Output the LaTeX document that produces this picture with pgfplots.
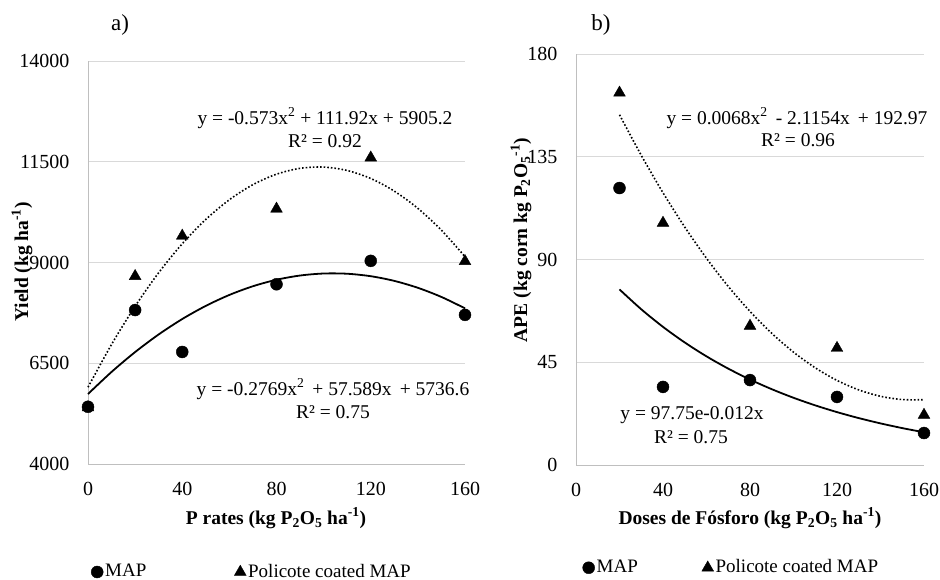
\documentclass[border=0pt]{standalone}
\usepackage{fontspec}
\setmainfont{Liberation Serif}
\usepackage{pgfplots}
\pgfplotsset{compat=1.18}

\pgfplotsset{
  panel/.style={
    scale only axis,
    axis x line*=bottom, axis y line*=left,
    axis line style={draw=gray!50, line width=0.9pt, -},
    major tick length=0pt,
    ymajorgrids, grid style={gray!30, line width=0.9pt},
    xmin=0, xmax=160, xtick={0,40,80,120,160},
    scaled y ticks=false,
    tick label style={font=\fontsize{20}{23}\selectfont},
    /pgf/number format/assume math mode=true,
    /pgf/number format/1000 sep={},
    yticklabel style={xshift=-12pt},
    xticklabel style={yshift=-12pt},
    clip=false,
    legend style={draw=none, fill=none, legend columns=2,
      font=\fontsize{19}{22}\selectfont},
    legend cell align=left,
    legend image code/.code={\draw[##1] plot coordinates {(0pt,0pt)};},
  },
  mapmark/.style={only marks, mark=*, mark size=6pt, black},
  polmark/.style={only marks, mark=triangle*, mark size=6.8pt, black},
}

\begin{document}
\fontsize{19.5}{23}\selectfont
\begin{tikzpicture}[x=1pt,y=1pt]
\path[use as bounding box] (0,0) rectangle (940,580);

% a) yield
\begin{axis}[panel, at={(88pt,116pt)}, anchor=south west,
  width=377pt, height=403pt,
  ymin=4000, ymax=14000, ytick={4000,6500,9000,11500,14000},
  legend style={at={(0,-0.268)}, anchor=west,
    /tikz/every even column/.append style={column sep=86pt}}]
\addplot[mapmark] coordinates {(0,5420) (20,7820) (40,6780) (80,8460) (120,9040) (160,7700)};
\addplot[polmark] coordinates {(0,5400) (20,8660) (40,9660) (80,10330) (120,11600) (160,9030)};
\legend{MAP, Policote coated MAP}
% trend lines from the printed equations
\addplot[forget plot, black, line width=1.8pt, smooth] coordinates {
  (0,5736.6) (10,6284.8) (20,6777.6) (30,7215.1) (40,7597.1) (50,7923.8)
  (60,8195.1) (70,8411.0) (80,8571.6) (90,8676.7) (100,8726.5) (110,8720.9)
  (120,8659.9) (130,8543.6) (140,8371.8) (150,8144.7) (160,7862.2)};
\addplot[forget plot, black, line width=1.6pt, dotted, smooth] coordinates {
  (0,5905.2) (10,6967.1) (20,7914.4) (30,8747.1) (40,9465.2) (50,10068.7)
  (60,10557.6) (70,10931.9) (80,11191.6) (90,11336.7) (100,11367.2) (110,11283.1)
  (120,11084.4) (130,10771.1) (140,10343.2) (150,9800.7) (160,9143.6)};
\end{axis}

% b) APE
\begin{axis}[panel, at={(576pt,115pt)}, anchor=south west,
  width=348pt, height=411pt,
  ymin=0, ymax=180, ytick={0,45,90,135,180},
  legend style={at={(0.01,-0.25)}, anchor=west,
    /tikz/every even column/.append style={column sep=62pt}}]
\addplot[mapmark] coordinates {(20,121.3) (40,34.2) (80,37.2) (120,29.8) (160,14.0)};
\addplot[polmark] coordinates {(20,163) (40,106) (80,60.9) (120,51.2) (160,21.9)};
\legend{MAP, Policote coated MAP}
\addplot[forget plot, black, line width=1.8pt, smooth] coordinates {
  (20,76.89) (30,68.20) (40,60.49) (50,53.65) (60,47.58) (70,42.20) (80,37.43)
  (90,33.20) (100,29.44) (110,26.11) (120,23.16) (130,20.54) (140,18.22)
  (150,16.16) (160,14.33)};
\addplot[forget plot, black, line width=1.6pt, dotted, smooth] coordinates {
  (20,153.38) (30,135.63) (40,119.23) (50,104.20) (60,90.53) (70,78.21) (80,67.26)
  (90,57.66) (100,49.43) (110,42.56) (120,37.04) (130,32.89) (140,30.09)
  (150,28.66) (160,28.59)};
\end{axis}

% panel letters
\node[font=\fontsize{23}{27}\selectfont] at (120,555) {a)};
\node[font=\fontsize{23}{27}\selectfont] at (601,555) {b)};

% axis titles
\node[rotate=90, font=\bfseries] at (22,318) {Yield (kg ha\textsuperscript{-1})};
\node[font=\bfseries] at (276,62) {P rates (kg P\textsubscript{2}O\textsubscript{5} ha\textsuperscript{-1})};
\node[rotate=90, font=\bfseries] at (521,340) {APE (kg corn kg P\textsubscript{2}O\textsubscript{5}\textsuperscript{-1})};
\node[font=\bfseries] at (750,62) {Doses de Fósforo (kg P\textsubscript{2}O\textsubscript{5} ha\textsuperscript{-1})};

% equations
\node at (325,462) {y = -0.573x\textsuperscript{2} + 111.92x + 5905.2};
\node at (325,439) {R² = 0.92};
\node at (333,191) {y = -0.2769x\textsuperscript{2}\, + 57.589x\, + 5736.6};
\node at (333,168) {R² = 0.75};
\node at (797,462) {y = 0.0068x\textsuperscript{2}\, - 2.1154x\, + 192.97};
\node at (798,440) {R² = 0.96};
\node at (692,165) {y = 97.75e-0.012x};
\node at (691,143) {R² = 0.75};
\end{tikzpicture}
\end{document}
